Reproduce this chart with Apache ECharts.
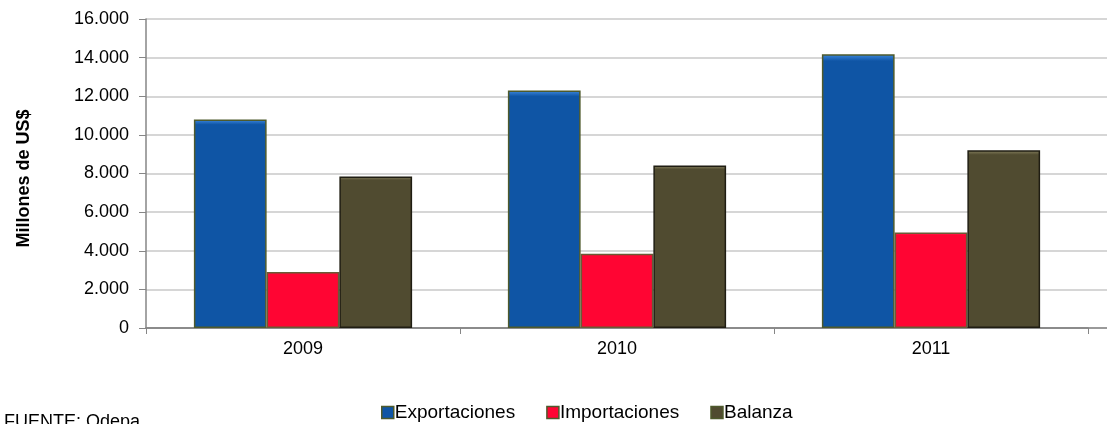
<!DOCTYPE html>
<html>
<head>
<meta charset="utf-8">
<script src="https://cdn.jsdelivr.net/npm/echarts@6/dist/echarts.min.js"></script>
<style>
  html, body { margin: 0; padding: 0; background: #fff; }
  #chart { width: 1107px; height: 424px; }
</style>
</head>
<body>
<div id="chart"></div>
<script>
// datos (millones de US$)
const years = ['2009', '2010', '2011']
const exportaciones = [10800, 12300, 14180]
const importaciones = [2900, 3850, 4950]
const balanza = [7850, 8420, 9200]

const fmt = v => String(v).replace(/\B(?=(\d{3})+(?!\d))/g, '.')
const font = 'Liberation Sans, Arial, sans-serif'

function bevel(base, light) {
  return new echarts.graphic.LinearGradient(0, 0, 0, 1, [
    { offset: 0, color: light },
    { offset: 0.025, color: base },
    { offset: 1, color: base }
  ])
}

const myChart = echarts.init(document.getElementById('chart'))
const option = {
  animation: false,
  textStyle: { fontFamily: font },
  grid: [
    { left: 146, right: 19, top: 19, bottom: 96 },
    // solo para las lineas de fondo que llegan al borde derecho
    { left: 146, right: 0, top: 19, bottom: 96 }
  ],
  legend: {
    data: ['Exportaciones', 'Importaciones', 'Balanza'],
    top: 398,
    left: 376,
    itemWidth: 12,
    itemHeight: 12,
    itemGap: 31,
    icon: 'rect',
    itemStyle: { borderColor: '#4e5a2c', borderWidth: 1.5 },
    textStyle: { fontSize: 19, color: '#000', padding: [0, 0, 0, -4] }
  },
  graphic: [{
    type: 'text',
    left: 4,
    top: 413,
    style: { text: 'FUENTE: Odepa', fontSize: 18, fill: '#000', fontFamily: font }
  }],
  xAxis: [
    {
      type: 'category',
      gridIndex: 0,
      data: years,
      axisLine: { lineStyle: { color: '#868686', width: 1.5 } },
      axisTick: { show: true, length: 6, lineStyle: { color: '#868686' } },
      axisLabel: { fontSize: 18, color: '#000', margin: 12 }
    },
    {
      type: 'value',
      gridIndex: 1,
      axisLine: { show: true, lineStyle: { color: '#868686', width: 1.5 } },
      axisTick: { show: false },
      axisLabel: { show: false },
      splitLine: { show: false }
    }
  ],
  yAxis: [
    {
      type: 'value',
      gridIndex: 0,
      min: 0,
      max: 16000,
      interval: 2000,
      name: 'Millones de US$',
      nameLocation: 'middle',
      nameGap: 113,
      nameTextStyle: { fontSize: 18, fontWeight: 'bold', color: '#000', padding: [0, 10, 0, 0] },
      axisLine: { show: true, lineStyle: { color: '#868686', width: 1.5 } },
      axisTick: { show: true, length: 7, lineStyle: { color: '#868686' } },
      axisLabel: { fontSize: 18, color: '#000', margin: 17, formatter: fmt },
      splitLine: { show: false },
      z: 3
    },
    {
      type: 'value',
      gridIndex: 1,
      min: 0,
      max: 16000,
      interval: 2000,
      axisLine: { show: false },
      axisTick: { show: false },
      axisLabel: { show: false },
      splitLine: { lineStyle: { color: '#d6d6d6', width: 2 } }
    }
  ],
  series: [
    {
      name: 'Exportaciones',
      type: 'bar',
      data: exportaciones,
      barGap: '0%',
      barCategoryGap: '30.5%',
      z: 4,
      itemStyle: { color: bevel('#0F55A5', '#3f8ae0'), borderColor: '#4e5a2c', borderWidth: 1.5 }
    },
    {
      name: 'Importaciones',
      type: 'bar',
      data: importaciones,
      z: 4,
      itemStyle: { color: bevel('#FF0533', '#ff5c7a'), borderColor: '#6b5a36', borderWidth: 1.5 }
    },
    {
      name: 'Balanza',
      type: 'bar',
      data: balanza,
      z: 4,
      itemStyle: { color: bevel('#504B30', '#8a8462'), borderColor: '#1f1d12', borderWidth: 1.5 }
    }
  ]
}
myChart.setOption(option, true)
</script>
</body>
</html>
